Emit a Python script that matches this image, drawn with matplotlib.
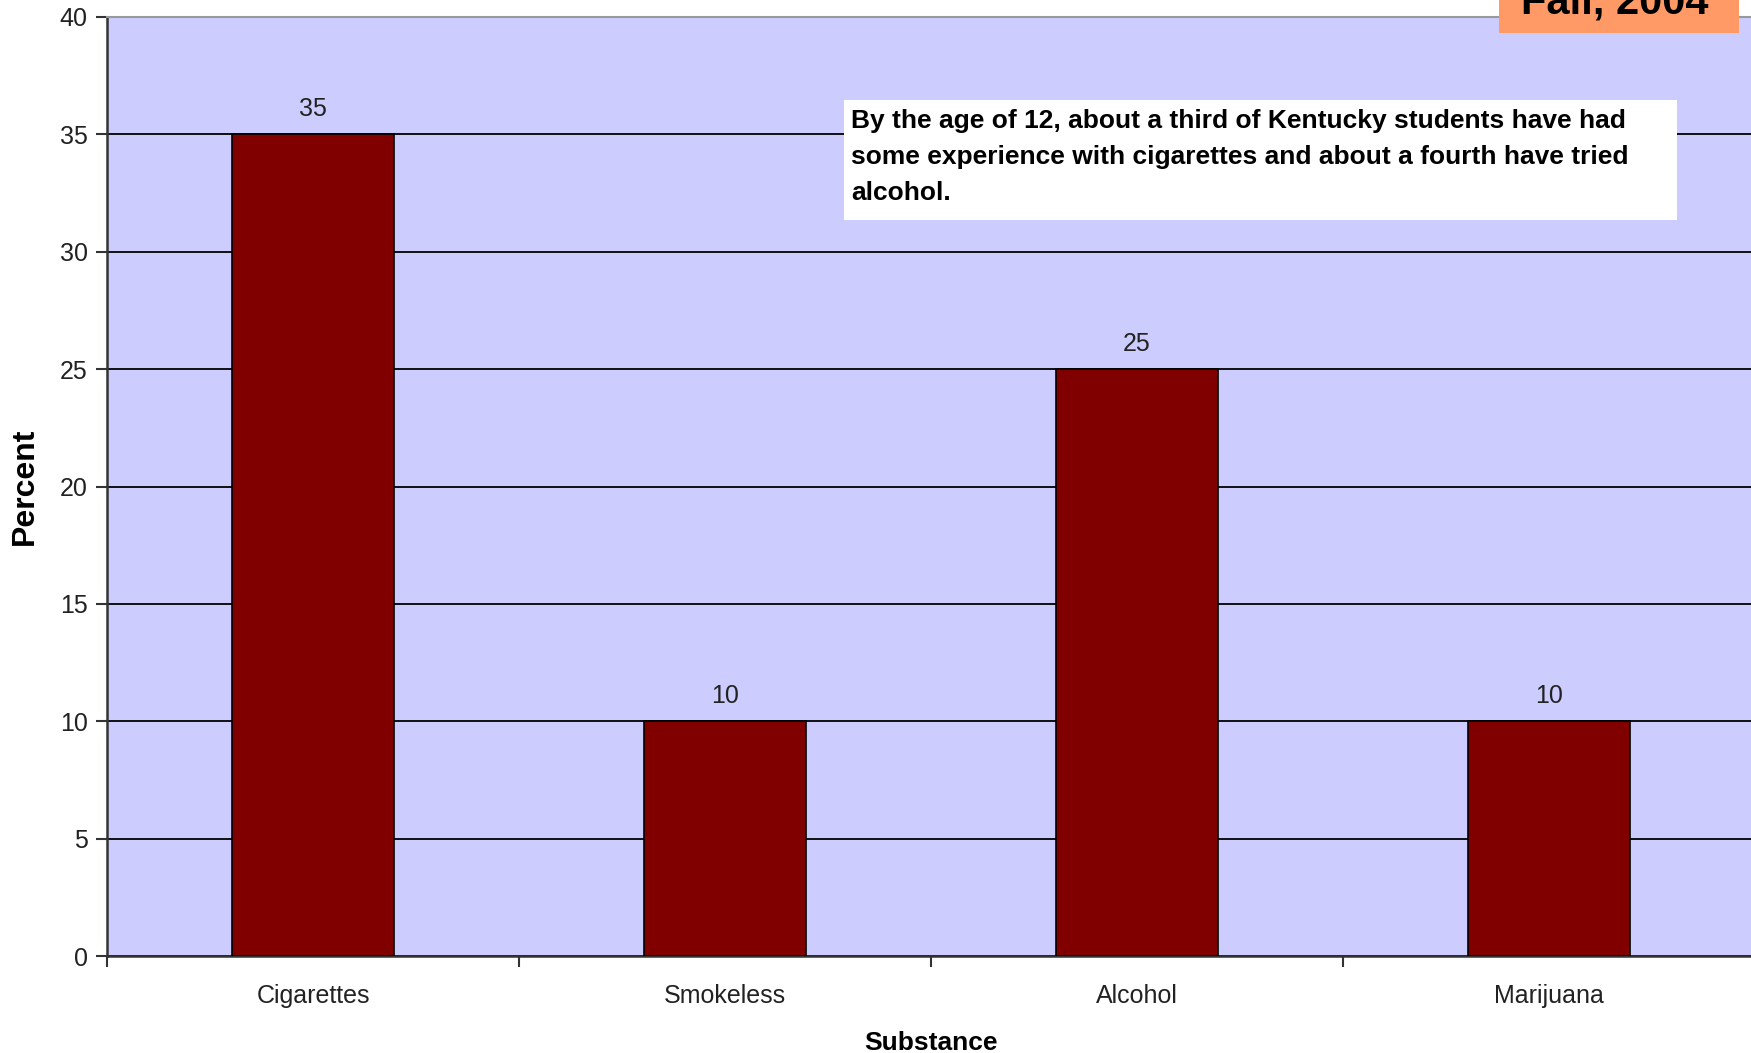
import matplotlib.pyplot as plt
from matplotlib.patches import Rectangle

substances = ["Cigarettes", "Smokeless", "Alcohol", "Marijuana"]
percent = [35, 10, 25, 10]
yticks = [0, 5, 10, 15, 20, 25, 30, 35, 40]

note = ("By the age of 12, about a third of Kentucky students have had\n"
        "some experience with cigarettes and about a fourth have tried\n"
        "alcohol.")

W, H = 1751, 1053
plt.rcParams['font.family'] = ['Liberation Sans', 'DejaVu Sans']

fig = plt.figure(figsize=(W / 100, H / 100), dpi=100)
fig.patch.set_facecolor('white')
ax = fig.add_axes([107 / W, 1 - 956 / H, 1648 / W, (956 - 17) / H])
ax.set_facecolor('#CCCCFF')

x = list(range(len(substances)))
ax.bar(x, percent, width=0.395, color='#800000', edgecolor='black',
       linewidth=1.2, zorder=3)
for xi, v in zip(x, percent):
    ax.text(xi, v + 0.55, str(v), ha='center', va='bottom', fontsize=18,
            color='#222222')

ax.set_xlim(-0.5, 3.5)
ax.set_ylim(0, 40)
ax.set_yticks(yticks)
ax.set_xticks(x)
ax.set_xticklabels(substances, fontsize=18, color='#222222')
ax.set_xticks([-0.5, 0.5, 1.5, 2.5], minor=True)
ax.tick_params(axis='x', which='major', length=0, pad=20)
ax.tick_params(axis='x', which='minor', length=8, width=1.5, color='#333333')
ax.tick_params(axis='y', length=8, width=1.5, color='#333333', labelsize=18,
               labelcolor='#222222', pad=6)

ax.yaxis.grid(True, color='black', linewidth=1.3, zorder=1)
ax.set_axisbelow(True)
for s in ['left', 'bottom']:
    ax.spines[s].set_color('#333333')
    ax.spines[s].set_linewidth(1.8)
ax.spines['top'].set_color('#999999')
ax.spines['top'].set_linewidth(1.5)
ax.spines['right'].set_visible(False)

ax.set_ylabel("Percent", fontsize=23, fontweight='bold', labelpad=14)
ax.set_xlabel("Substance", fontsize=19, fontweight='bold', labelpad=17)

# note box
fig.patches.append(Rectangle((844 / W, 1 - 220 / H), (1677 - 844) / W, 120 / H,
                             transform=fig.transFigure, facecolor='white',
                             edgecolor='none', zorder=5))
fig.text(851 / W, 1 - 157 / H, note, ha='left', va='center', fontsize=19,
         fontweight='bold', linespacing=1.62, zorder=6)

# date tag at top right
fig.patches.append(Rectangle((1499 / W, 1 - 33 / H), 240 / W, 40 / H,
                             transform=fig.transFigure, facecolor='#FF9966',
                             edgecolor='none', zorder=5, clip_on=False))
fig.text(1615 / W, 1 - 13 / H, "Fall, 2004", ha='center', va='baseline',
         fontsize=30, fontweight='bold', zorder=6)

fig.savefig("out.png", dpi=100)
